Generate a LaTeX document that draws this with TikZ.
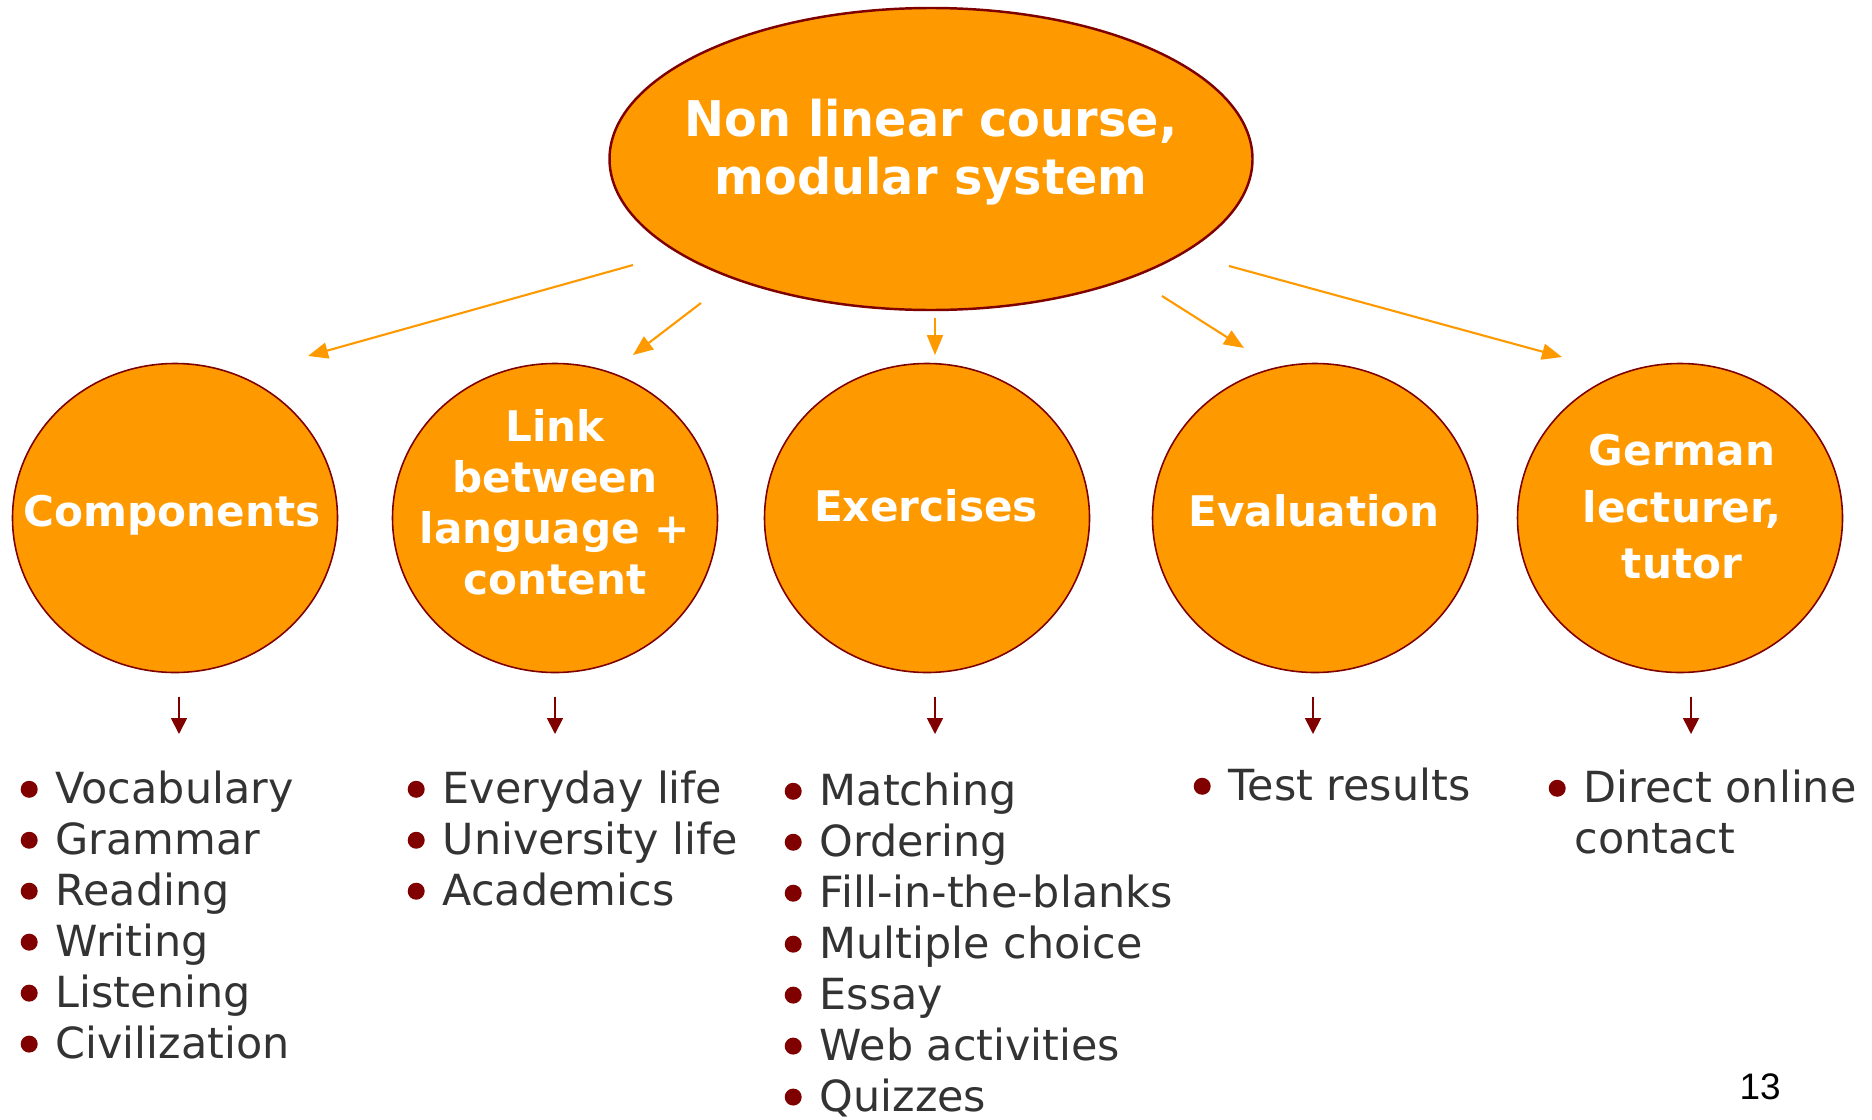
\documentclass[tikz,border=0pt]{standalone}
\usepackage{fontspec}
\setmainfont{DejaVu Sans}
\newfontfamily\pagefont{Liberation Sans}
\newfontfamily\titlefont[FakeStretch=0.97]{DejaVu Sans}
\usepackage{xcolor}
\usepackage{tikz}
\usetikzlibrary{positioning,arrows.meta,shapes.geometric}

\definecolor{bubbleorange}{HTML}{FF9900}
\definecolor{bubbleedge}{HTML}{7F0000}
\definecolor{bulletred}{HTML}{800000}
\definecolor{listgrey}{HTML}{333333}

\newcommand{\itm}{\tikz[baseline=-1.4mm]\fill[bulletred] (0,0) circle[radius=0.85mm];\hspace{1.8mm}}

\begin{document}
\begin{tikzpicture}[
    x=0.1mm, y=-0.1mm,
    bubble/.style={ellipse, draw=bubbleedge, fill=bubbleorange, line width=0.45pt, minimum width=32.5mm, minimum height=30.9mm, inner sep=0pt},
    topbubble/.style={bubble, line width=0.7pt, minimum width=64.3mm, minimum height=30.2mm},
    bubbletext/.style={text=white, font=\bfseries\fontsize{12}{14.5}\selectfont, align=center, inner sep=0pt},
    titletext/.style={text=white, font=\titlefont\bfseries\fontsize{14}{16.5}\selectfont, align=center, inner sep=0pt},
    listtext/.style={text=listgrey, font=\fontsize{12.2}{14.5}\selectfont, align=left, anchor=north west, inner sep=0pt},
    linkarrow/.style={-{Triangle[length=2mm,width=1.6mm]}, draw=bubbleorange, line width=0.6pt},
    listarrow/.style={-{Triangle[length=1.6mm,width=1.6mm]}, draw=bulletred, line width=0.5pt}
    ]
        \useasboundingbox (0,0) rectangle (1872,1119);

        %Nodes
        \node[topbubble]    (top)   at (931,159)  {};
        \node[titletext]    (toptext) at (top.center) [yshift=0.7mm] {Non linear course,\\modular system};

        \node[bubble]   (comp)  at (175,518)  {};
        \node[bubble]   (link)  at (555,518)  {};
        \node[bubble]   (exer)  at (927,518)  {};
        \node[bubble]   (eval)  at (1315,518) {};
        \node[bubble]   (germ)  at (1680,518) {};

        \node[bubbletext]   (comptext)  at (172,515)  {Components};
        \node[bubbletext]   (linktext)  at (555,502)  {Link\\between\\language +\\content};
        \node[bubbletext]   (exertext)  at (926,506)  {Exercises};
        \node[bubbletext]   (evaltext)  at (1314,511) {Evaluation};
        \node[bubbletext, font=\bfseries\fontsize{12}{16.1}\selectfont]
                            (germtext)  at (1682,507) {German\\lecturer,\\tutor};

        \node[listtext] (complist)  at (20,770)   {\itm Vocabulary\\\itm Grammar\\\itm Reading\\\itm Writing\\\itm Listening\\\itm Civilization};
        \node[listtext] (linklist)  at (407,770)  {\itm Everyday life\\\itm University life\\\itm Academics};
        \node[listtext] (exerlist)  at (784,772)  {\itm Matching\\\itm Ordering\\\itm Fill-in-the-blanks\\\itm Multiple choice\\\itm Essay\\\itm Web activities\\\itm Quizzes};
        \node[listtext] (evallist)  at (1193,767) {\itm Test results};
        \node[listtext] (germlist)  at (1548,769) {\itm Direct online\\\hspace*{2.6mm}contact};

        \node[inner sep=0pt, font=\pagefont\fontsize{10.5}{12}\selectfont] (pagenum) at (1760,1087) {13};

        %Coordinates
        \coordinate (from-comp) at (633,265);
        \coordinate (to-comp)   at (308,356);
        \coordinate (from-link) at (701,303);
        \coordinate (to-link)   at (633,355);
        \coordinate (from-exer) at (935,318);
        \coordinate (to-exer)   at (935,355);
        \coordinate (from-eval) at (1162,296);
        \coordinate (to-eval)   at (1244,348);
        \coordinate (from-germ) at (1229,266);
        \coordinate (to-germ)   at (1562,357);

        \coordinate (comp-out)  at (179,697);
        \coordinate (comp-in)   at (179,734);
        \coordinate (link-out)  at (555,697);
        \coordinate (link-in)   at (555,734);
        \coordinate (exer-out)  at (935,697);
        \coordinate (exer-in)   at (935,734);
        \coordinate (eval-out)  at (1313,697);
        \coordinate (eval-in)   at (1313,734);
        \coordinate (germ-out)  at (1691,697);
        \coordinate (germ-in)   at (1691,734);

        %Lines
        \draw[linkarrow] (from-comp) -- (to-comp);
        \draw[linkarrow] (from-link) -- (to-link);
        \draw[linkarrow] (from-exer) -- (to-exer);
        \draw[linkarrow] (from-eval) -- (to-eval);
        \draw[linkarrow] (from-germ) -- (to-germ);

        \draw[listarrow] (comp-out) -- (comp-in);
        \draw[listarrow] (link-out) -- (link-in);
        \draw[listarrow] (exer-out) -- (exer-in);
        \draw[listarrow] (eval-out) -- (eval-in);
        \draw[listarrow] (germ-out) -- (germ-in);
    \end{tikzpicture}
\end{document}
